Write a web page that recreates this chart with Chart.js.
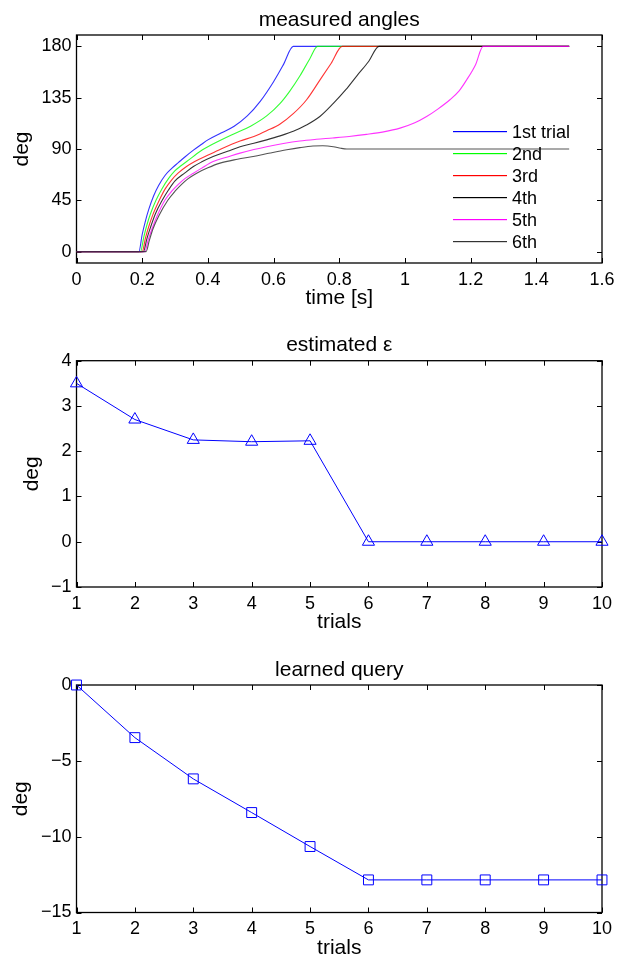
<!DOCTYPE html>
<html>
<head>
<meta charset="utf-8">
<script src="https://cdn.jsdelivr.net/npm/chart.js@4.4.0/dist/chart.umd.min.js"></script>
<style>
  html, body { margin: 0; padding: 0; background: #fff; }
  .panel { position: absolute; left: 0; width: 626px; }
</style>
</head>
<body>
<div class="panel" style="top:0;height:310px"><canvas id="angles"></canvas></div>
<div class="panel" style="top:310px;height:320px"><canvas id="eps"></canvas></div>
<div class="panel" style="top:630px;height:330px"><canvas id="query"></canvas></div>
<script>
// ─── Data: measured angles (time [s] / deg per trial) ─────────────
const trialNames  = ['1st trial', '2nd', '3rd', '4th', '5th', '6th'];
const trialColors = ['#0000ff', '#00ff00', '#ff0000', '#000000', '#ff00ff', '#333333'];
const traceColors = ['rgba(0,0,255,0.8)', 'rgba(0,255,0,0.8)', 'rgba(255,0,0,0.8)',
                     'rgba(0,0,0,0.8)', 'rgba(255,0,255,0.8)', 'rgba(40,40,40,0.8)'];

const time1  = [0, 0.19, 0.20, 0.21, 0.22, 0.235, 0.25, 0.27, 0.29, 0.31, 0.33, 0.356, 0.38, 0.40, 0.44, 0.48, 0.52, 0.56, 0.60, 0.63, 0.66, 1.5];
const angle1 = [0, 0, 15, 27, 37, 49, 58, 67, 73, 78, 83, 89, 94, 98, 104, 110, 119, 132, 149, 164, 180, 180];

const time2  = [0, 0.195, 0.205, 0.215, 0.225, 0.242, 0.26, 0.28, 0.30, 0.315, 0.34, 0.376, 0.42, 0.477, 0.53, 0.579, 0.62, 0.65, 0.68, 0.71, 0.734, 1.5];
const angle2 = [0, 0, 13, 24, 33, 45, 55, 64, 71, 74.6, 80, 87.8, 95, 103, 110, 119, 130, 141, 154, 169, 180, 180];

const time3  = [0, 0.20, 0.21, 0.22, 0.232, 0.252, 0.27, 0.29, 0.31, 0.335, 0.36, 0.396, 0.44, 0.498, 0.54, 0.579, 0.62, 0.66, 0.70, 0.74, 0.775, 0.809, 1.5];
const angle3 = [0, 0, 12, 22, 32, 45, 55, 63, 69, 74.6, 79, 84, 90, 97, 101, 106, 112, 121, 133, 150, 165, 180, 180];

const time4  = [0, 0.204, 0.214, 0.225, 0.24, 0.261, 0.28, 0.30, 0.33, 0.356, 0.38, 0.416, 0.46, 0.498, 0.54, 0.579, 0.62, 0.66, 0.70, 0.741, 0.782, 0.82, 0.853, 0.89, 0.921, 1.5];
const angle4 = [0, 0, 11, 21, 33, 45, 54, 62, 69, 74.6, 78.5, 83.4, 88, 92, 95, 98, 101.5, 105.5, 111, 118.5, 130, 142, 154, 167, 180, 180];

const time5  = [0, 0.208, 0.218, 0.23, 0.245, 0.269, 0.29, 0.31, 0.33, 0.356, 0.38, 0.416, 0.46, 0.498, 0.54, 0.579, 0.63, 0.68, 0.73, 0.78, 0.83, 0.883, 0.935, 0.985, 1.03, 1.066, 1.10, 1.137, 1.165, 1.188, 1.215, 1.238, 1.5];
const angle5 = [0, 0, 10, 20, 31, 45, 53, 59, 64, 68.8, 73, 79, 83, 86.4, 89.5, 92, 94.8, 97, 98.5, 99.7, 101, 102.8, 105, 108.3, 113, 118.5, 125, 133.2, 141, 150.7, 164, 180, 180];

const time6  = [0, 0.212, 0.222, 0.233, 0.25, 0.278, 0.30, 0.32, 0.34, 0.366, 0.40, 0.437, 0.49, 0.538, 0.59, 0.64, 0.68, 0.72, 0.75, 0.782, 0.805, 0.823, 1.5];
const angle6 = [0, 0, 10, 20, 31, 45, 53, 59, 64, 68.8, 73.5, 77.6, 81, 83.4, 86.5, 89.3, 91.2, 92.6, 92.8, 92, 90.6, 90, 90];

const timeTicks  = [0, 0.2, 0.4, 0.6, 0.8, 1, 1.2, 1.4, 1.6];
const angleTicks = [0, 45, 90, 135, 180];

// ─── Data: per-trial estimates ────────────────────────────────────
const trials   = [1, 2, 3, 4, 5, 6, 7, 8, 9, 10];
const epsilon  = [3.5, 2.7, 2.25, 2.21, 2.23, 0, 0, 0, 0, 0];
const learned  = [0, -3.47, -6.19, -8.41, -10.65, -12.85, -12.85, -12.85, -12.85, -12.85];
const epsTicks   = [-1, 0, 1, 2, 3, 4];
const queryTicks = [-15, -10, -5, 0];

const FONT = "'Liberation Sans', Arial, sans-serif";
const fmt = v => String(v).replace('-', '\u2212');

// ─── Frame: box, inward ticks, title and axis labels ─────────────
const frame = {
  id: 'frame',
  beforeDatasetsDraw(chart, args, o) {
    const { ctx, chartArea: a, scales: { x, y } } = chart;
    ctx.save();
    ctx.strokeStyle = '#000';
    ctx.lineWidth = 1.3;
    ctx.strokeRect(a.left, a.top, a.right - a.left, a.bottom - a.top);
    ctx.lineWidth = 1;
    ctx.beginPath();
    x.ticks.forEach(t => {
      const px = Math.round(x.getPixelForValue(t.value)) + 0.5;
      ctx.moveTo(px, a.bottom); ctx.lineTo(px, a.bottom - 5);
      ctx.moveTo(px, a.top);    ctx.lineTo(px, a.top + 5);
    });
    y.ticks.forEach(t => {
      const py = Math.round(y.getPixelForValue(t.value)) + 0.5;
      ctx.moveTo(a.left, py);  ctx.lineTo(a.left + 5, py);
      ctx.moveTo(a.right, py); ctx.lineTo(a.right - 5, py);
    });
    ctx.stroke();
    ctx.restore();
  },
  afterDraw(chart, args, o) {
    const { ctx, chartArea: a } = chart;
    const cx = (a.left + a.right) / 2;
    ctx.save();
    ctx.fillStyle = '#000';
    ctx.font = `21px ${FONT}`;
    ctx.textAlign = 'center';
    ctx.textBaseline = 'alphabetic';
    ctx.fillText(o.title, cx, a.top - 9.5);
    ctx.fillText(o.xLabel, cx, a.bottom + 41);
    ctx.translate(o.yLabelX, (a.top + a.bottom) / 2);
    ctx.rotate(-Math.PI / 2);
    ctx.fillText(o.yLabel, 0, 0);
    ctx.restore();
  }
};

// ─── Legend inside top panel (no box) ────────────────────────────
const innerLegend = {
  id: 'innerLegend',
  afterDraw(chart, args, o) {
    if (!o.show) return;
    const { ctx, chartArea: a } = chart;
    const x0 = Math.round(a.right - 149);
    ctx.save();
    ctx.font = `18px ${FONT}`;
    ctx.textAlign = 'left';
    ctx.textBaseline = 'alphabetic';
    trialNames.forEach((name, i) => {
      const yy = Math.round(a.top + 96 + i * 22);
      ctx.fillStyle = trialColors[i];
      ctx.fillRect(x0, yy, 54, 1.2);
      ctx.fillStyle = '#000';
      ctx.fillText(name, x0 + 59, yy + 7);
    });
    ctx.restore();
  }
};

function axis(min, max, ticks, size, isX) {
  return {
    type: 'linear', min, max,
    afterBuildTicks: s => { s.ticks = ticks.map(v => ({ value: v })); },
    afterFit: s => { if (isX) s.height = size; else s.width = size; },
    grid: { display: false, drawTicks: false },
    border: { display: false },
    ticks: {
      autoSkip: false, maxRotation: 0, color: '#000',
      padding: isX ? 6 : 5,
      font: { family: FONT, size: 18 },
      callback: v => fmt(v),
    },
  };
}

function mkChart(id, datasets, o) {
  return new Chart(document.getElementById(id), {
    type: 'line',
    data: { datasets },
    options: {
      responsive: true,
      maintainAspectRatio: false,
      animation: false,
      layout: { padding: { left: 0, right: 24, top: o.top, bottom: 0 } },
      scales: {
        x: axis(o.xMin, o.xMax, o.xTicks, o.bottom, true),
        y: axis(o.yMin, o.yMax, o.yTicks, 76.5, false),
      },
      plugins: {
        legend: { display: false },
        tooltip: { enabled: false },
        frame: { title: o.title, xLabel: o.xLabel, yLabel: 'deg', yLabelX: o.yLabelX },
        innerLegend: { show: !!o.legend },
      },
    },
    plugins: [frame, innerLegend],
  });
}

// ─── Top: measured angles ─────────────────────────────────────────
const times  = [time1, time2, time3, time4, time5, time6];
const angles = [angle1, angle2, angle3, angle4, angle5, angle6];
mkChart('angles', trialNames.map((name, i) => ({
  label: name,
  data: times[i].map((t, k) => ({ x: t, y: angles[i][k] })),
  borderColor: traceColors[i],
  borderWidth: 1.1,
  pointRadius: 0,
  cubicInterpolationMode: 'monotone',
  order: trialNames.length - i,   // later trials drawn on top
})), {
  top: 35, bottom: 47, xMin: 0, xMax: 1.6, yMin: -10, yMax: 190,
  xTicks: timeTicks, yTicks: angleTicks,
  title: 'measured angles', xLabel: 'time [s]', yLabelX: 28, legend: true,
});

// ─── Middle: estimated epsilon ────────────────────────────────────
mkChart('eps', [{
  label: 'epsilon',
  data: trials.map((t, i) => ({ x: t, y: epsilon[i] })),
  borderColor: '#0000ff', borderWidth: 1, tension: 0,
  pointStyle: 'triangle', pointRadius: 7, pointBorderWidth: 1,
  pointBorderColor: '#0000ff', pointBackgroundColor: 'rgba(0,0,0,0)',
  clip: false,
}], {
  top: 50.7, bottom: 43, xMin: 1, xMax: 10, yMin: -1, yMax: 4,
  xTicks: trials, yTicks: epsTicks,
  title: 'estimated \u03b5', xLabel: 'trials', yLabelX: 38,
});

// ─── Bottom: learned query ────────────────────────────────────────
mkChart('query', [{
  label: 'query',
  data: trials.map((t, i) => ({ x: t, y: learned[i] })),
  borderColor: '#0000ff', borderWidth: 1, tension: 0,
  pointStyle: 'rect', pointRadius: 7, pointBorderWidth: 1,
  pointBorderColor: '#0000ff', pointBackgroundColor: 'rgba(0,0,0,0)',
  clip: false,
}], {
  top: 55, bottom: 47.5, xMin: 1, xMax: 10, yMin: -15, yMax: 0,
  xTicks: trials, yTicks: queryTicks,
  title: 'learned query', xLabel: 'trials', yLabelX: 27,
});
</script>
</body>
</html>
